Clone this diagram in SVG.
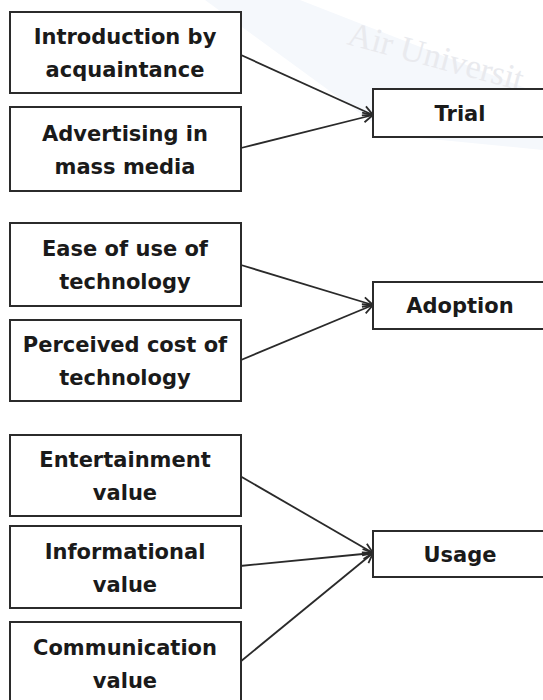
<svg xmlns="http://www.w3.org/2000/svg" width="543" height="700" viewBox="0 0 543 700">
  <style>
    .box { fill: #ffffff; stroke: #2b2b2b; stroke-width: 2; }
    .lbl { font-family: "DejaVu Sans", "Liberation Sans", sans-serif; font-weight: bold; font-size: 21px; fill: #1a1a1a; text-anchor: middle; }
    .conn { stroke: #2a2a2a; stroke-width: 1.8; fill: none; marker-end: url(#arr); }
    .wm { font-family: "Liberation Serif", serif; font-size: 34px; fill: #e9eaee; }
  </style>
  <defs>
    <marker id="arr" markerUnits="userSpaceOnUse" markerWidth="14" markerHeight="14" refX="11" refY="6" orient="auto">
      <path d="M1,1 L11,6 L1,11" fill="none" stroke="#2a2a2a" stroke-width="1.8"/>
    </marker>
  </defs>
  <rect width="543" height="700" fill="#ffffff"/>
  <polygon points="205,0 300,0 543,95 543,150 390,135" fill="#f5f8fc"/>
  <text class="wm" x="346" y="44" transform="rotate(15 346 44)">Air Universit</text>

  <g id="connectors">
    <line class="conn" x1="241" y1="55" x2="373" y2="115"/>
    <line class="conn" x1="241" y1="148" x2="373" y2="115"/>
    <line class="conn" x1="241" y1="265" x2="373" y2="305"/>
    <line class="conn" x1="241" y1="360" x2="373" y2="305"/>
    <line class="conn" x1="240" y1="476" x2="373" y2="553"/>
    <line class="conn" x1="240" y1="566" x2="373" y2="553"/>
    <line class="conn" x1="240" y1="662" x2="373" y2="553"/>
  </g>

  <g id="intro">
    <rect class="box" x="10" y="12" width="231" height="81"/>
    <text class="lbl" x="125" y="44">Introduction by</text>
    <text class="lbl" x="125" y="77">acquaintance</text>
  </g>
  <g id="advertising">
    <rect class="box" x="10" y="107" width="231" height="84"/>
    <text class="lbl" x="125" y="140.5">Advertising in</text>
    <text class="lbl" x="125" y="173.5">mass media</text>
  </g>
  <g id="trial">
    <rect class="box" x="373" y="89" width="176" height="48"/>
    <text class="lbl" x="460" y="120.5">Trial</text>
  </g>

  <g id="ease">
    <rect class="box" x="10" y="223" width="231" height="83"/>
    <text class="lbl" x="125" y="256">Ease of use of</text>
    <text class="lbl" x="125" y="289">technology</text>
  </g>
  <g id="cost">
    <rect class="box" x="10" y="320" width="231" height="81"/>
    <text class="lbl" x="125" y="352">Perceived cost of</text>
    <text class="lbl" x="125" y="385">technology</text>
  </g>
  <g id="adoption">
    <rect class="box" x="373" y="282" width="176" height="47"/>
    <text class="lbl" x="460" y="313">Adoption</text>
  </g>

  <g id="entertainment">
    <rect class="box" x="10" y="435" width="231" height="81"/>
    <text class="lbl" x="125" y="467">Entertainment</text>
    <text class="lbl" x="125" y="500">value</text>
  </g>
  <g id="informational">
    <rect class="box" x="10" y="526" width="231" height="82"/>
    <text class="lbl" x="125" y="558.5">Informational</text>
    <text class="lbl" x="125" y="591.5">value</text>
  </g>
  <g id="communication">
    <rect class="box" x="10" y="622" width="231" height="84"/>
    <text class="lbl" x="125" y="654.5">Communication</text>
    <text class="lbl" x="125" y="687.5">value</text>
  </g>
  <g id="usage">
    <rect class="box" x="373" y="531" width="176" height="46"/>
    <text class="lbl" x="460" y="561.5">Usage</text>
  </g>
</svg>
